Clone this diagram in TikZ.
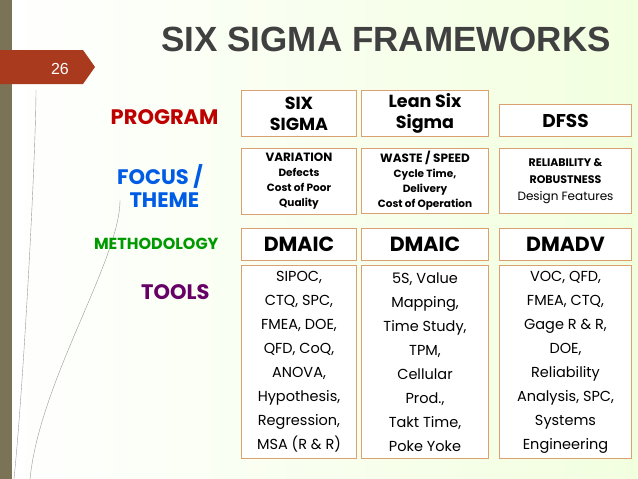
\documentclass[tikz,border=0pt]{standalone}
\usepackage{fontspec}
\setmainfont{Poppins}
\newfontfamily\titlefont{Liberation Sans}
\definecolor{barc}{HTML}{7B7356}
\definecolor{tagc}{HTML}{A93A1E}
\definecolor{boxc}{HTML}{D9A070}
\begin{document}
\begin{tikzpicture}[x=1pt,y=-1pt,
  cell/.style={draw=boxc,line width=1pt,fill=white,anchor=north west,align=center,inner sep=0pt},
  lab/.style={font=\bfseries\fontsize{21}{24}\selectfont,align=right,anchor=east}]
\useasboundingbox (0,0) rectangle (638,479);
\shade[left color=white, right color=green!40!yellow!25!white] (0,0) rectangle (638,479);
\fill[white,opacity=0.5] (0,0) rectangle (638,479);
\fill[barc] (0,0) rectangle (12,479);
% grass
\foreach \a/\b/\c in {36/90/14,120/200/30}{
  \draw[black!40,line width=0.4pt] (\c,479) .. controls (\c+10,380) and (\a,\b+60) .. (\a,\b);}
\fill[tagc] (0,50) -- (83,50) -- (95,67) -- (83,84) -- (0,84) -- cycle;
\node[white,font=\titlefont\fontsize{16}{18}\selectfont] (pg) at (60,69) {26};
\node[black!75,font=\titlefont\bfseries\fontsize{35}{38}\selectfont,anchor=west] (title) at (158,39) {SIX SIGMA FRAMEWORKS};
% labels
\node[lab,red!75!black] (l1) at (222,117) {PROGRAM};
\node[lab,blue!60!cyan!90!black,align=center,anchor=center] (l2) at (160,186) {FOCUS /\\[-1pt]\ \ THEME};
\node[lab,green!60!black,font=\bfseries\fontsize{16}{18}\selectfont] (l3) at (222,244) {METHODOLOGY};
\node[lab,violet!80!black] (l4) at (213,292) {TOOLS};
% row1
\node[cell,minimum width=115,minimum height=46,font=\bfseries\fontsize{17.5}{21}\selectfont] (a1) at (241,90) {SIX\\SIGMA};
\node[cell,minimum width=127,minimum height=46,font=\bfseries\fontsize{17.5}{21}\selectfont] (b1) at (361,90) {Lean Six\\Sigma};
\node[cell,minimum width=132,minimum height=32,font=\bfseries\fontsize{18.5}{20}\selectfont] (c1) at (499,104) {DFSS};
% row2
\node[cell,minimum width=115,minimum height=66,font=\bfseries\fontsize{12}{15}\selectfont] (a2) at (241,148) {VARIATION\\{\fontsize{10.5}{14}\selectfont Defects}\\{\fontsize{10.5}{14}\selectfont Cost of Poor}\\{\fontsize{10.5}{14}\selectfont Quality}};
\node[cell,minimum width=127,minimum height=65,font=\bfseries\fontsize{12}{15}\selectfont] (b2) at (361,148) {WASTE / SPEED\\{\fontsize{10.5}{14}\selectfont Cycle Time,}\\{\fontsize{10.5}{14}\selectfont Delivery}\\{\fontsize{10.5}{14}\selectfont Cost of Operation}};
\node[cell,minimum width=132,minimum height=65,font=\bfseries\fontsize{11}{17}\selectfont] (c2) at (499,148) {RELIABILITY \&\\ROBUSTNESS\\{\mdseries\fontsize{12}{15}\selectfont Design Features}};
% row3
\foreach \n/\x/\w/\t in {a3/241/115/DMAIC,b3/361/127/DMAIC,c3/499/132/DMADV}
  \node[cell,minimum width=\w,minimum height=32,font=\bfseries\fontsize{20.5}{22}\selectfont] (\n) at (\x,228) {\t};
% row4
\node[cell,minimum width=115,minimum height=193,font=\fontsize{14.5}{24}\selectfont] (a4) at (241,265) {SIPOC,\\CTQ, SPC,\\FMEA, DOE,\\QFD, CoQ,\\ANOVA,\\Hypothesis,\\Regression,\\MSA (R \& R)};
\node[cell,minimum width=127,minimum height=193,font=\fontsize{14.5}{24}\selectfont] (b4) at (361,265) {5S, Value\\Mapping,\\Time Study,\\TPM,\\Cellular\\Prod.,\\Takt Time,\\Poke Yoke};
\node[cell,minimum width=132,minimum height=193,font=\fontsize{14.5}{24}\selectfont] (c4) at (499,265) {VOC, QFD,\\FMEA, CTQ,\\Gage R \& R,\\DOE,\\Reliability\\Analysis, SPC,\\Systems\\Engineering};
\end{tikzpicture}
\end{document}
